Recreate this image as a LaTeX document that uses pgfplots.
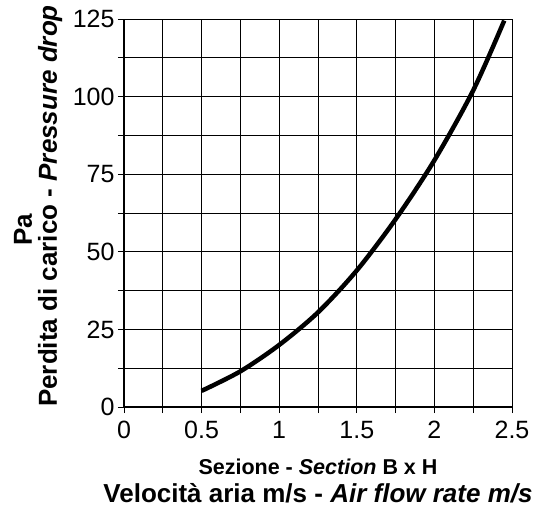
\documentclass[border=0pt]{standalone}
\usepackage{pgfplots}
\pgfplotsset{compat=1.18}
\usepackage{fontspec}
\setmainfont{Liberation Sans}
\newcommand{\tf}{\fontsize{25}{29}\selectfont}
\begin{document}
\begin{tikzpicture}
\begin{axis}[
  scale only axis, width=388pt, height=388pt,
  at={(0,0)}, anchor=south west,
  xmin=0, xmax=2.5, ymin=0, ymax=125,
  xtick={0,0.5,1,1.5,2,2.5}, minor xtick={0.25,0.75,1.25,1.75,2.25},
  ytick={0,25,50,75,100,125}, minor ytick={12.5,37.5,62.5,87.5,112.5},
  xticklabels={{\tf 0},{\tf 0.5},{\tf 1},{\tf 1.5},{\tf 2},{\tf 2.5}},
  yticklabels={{\tf 0},{\tf 25},{\tf 50},{\tf 75},{\tf 100},{\tf 125}},
  grid=both,
  major grid style={black, line width=0.8pt},
  minor grid style={black, line width=0.8pt},
  axis x line*=bottom, axis y line*=left,
  axis line style={line width=2.8pt, -},
  tick align=outside,
  major tick length=6pt, minor tick length=6pt,
  every tick/.style={black, line width=0.8pt},
  xticklabel style={font=\tf, yshift=-5pt},
  yticklabel style={font=\tf},
  clip=false,
]
\addplot[black, line width=4.5pt, smooth] coordinates {
  (0.5,5.2) (0.75,11.5) (1,20) (1.25,30.5) (1.5,44) (1.75,60.5) (2,79.5) (2.25,102) (2.45,124.5)
};
\end{axis}
\node[rotate=90, anchor=base, font=\fontsize{26}{30}\selectfont\bfseries] at (-67pt,201pt) {Perdita di carico - \textit{Pressure drop}};
\node[rotate=90, anchor=base, font=\fontsize{26}{30}\selectfont\bfseries] at (-92pt,177pt) {Pa};
\node[anchor=base, font=\fontsize{21.5}{24}\selectfont\bfseries] at (194pt,-67pt) {Sezione - \textit{Section} B x H};
\node[anchor=base, font=\fontsize{26}{30}\selectfont\bfseries] at (194pt,-95pt) {Velocità aria m/s - \textit{Air flow rate m/s}};
\path[use as bounding box] (-124pt,-100pt) rectangle (419pt,407pt);
\end{tikzpicture}
\end{document}
